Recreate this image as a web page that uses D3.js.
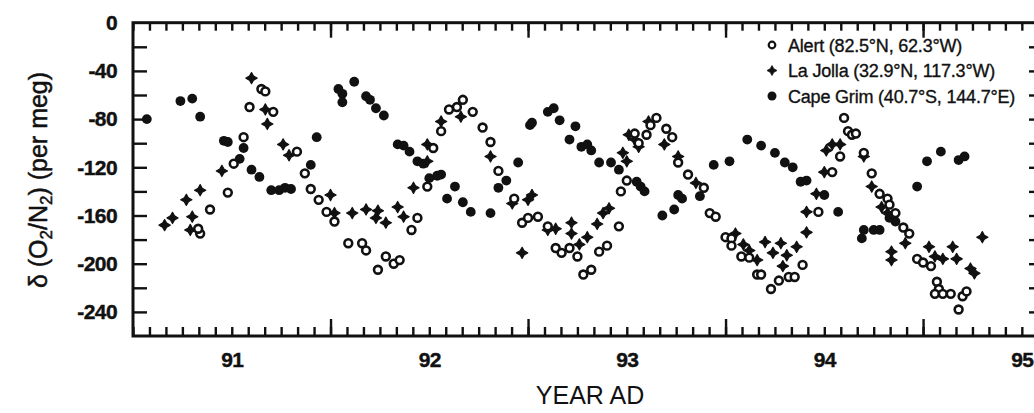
<!DOCTYPE html>
<html>
<head>
<meta charset="utf-8">
<script src="https://cdn.jsdelivr.net/npm/d3@7"></script>
<style>
  body { margin: 0; background: #fff; }
  svg { display: block; }
  text { font-family: "Liberation Sans", Arial, Helvetica, sans-serif; fill: #111; }
</style>
</head>
<body>
<script>
// values: [decimal year (19xx), delta O2/N2 in per meg]
let alert = [
  [90.84, -175], [90.83, -171], [90.89, -155], [90.98, -141], [91.01, -117], [91.06, -95],
  [91.09, -70], [91.15, -55], [91.17, -57], [91.21, -74], [91.33, -107], [91.37, -125],
  [91.40, -138], [91.44, -147], [91.48, -157], [91.52, -165], [91.59, -183], [91.66, -183],
  [91.68, -189], [91.74, -205], [91.78, -194], [91.82, -200], [91.85, -197], [91.91, -172],
  [91.94, -162], [91.99, -136], [92.02, -104], [92.06, -90], [92.10, -72], [92.14, -70],
  [92.17, -64], [92.22, -74], [92.27, -87], [92.31, -99], [92.35, -123], [92.43, -146],
  [92.47, -166], [92.50, -162], [92.55, -161], [92.60, -169], [92.64, -187], [92.67, -191],
  [92.71, -187], [92.75, -194], [92.78, -209], [92.82, -205], [92.86, -190], [92.90, -185],
  [92.96, -169], [92.97, -140], [93.00, -131], [93.04, -92], [93.06, -100], [93.10, -93],
  [93.12, -85], [93.15, -79], [93.20, -88], [93.23, -95], [93.26, -116], [93.31, -126],
  [93.39, -137], [93.42, -158], [93.45, -161], [93.50, -178], [93.53, -179], [93.53, -185],
  [93.58, -194], [93.62, -195], [93.66, -209], [93.68, -209], [93.73, -221], [93.77, -214],
  [93.82, -211], [93.85, -211], [93.89, -201], [93.97, -157], [94.04, -124], [94.08, -111],
  [94.10, -79], [94.12, -90], [94.14, -93], [94.16, -92], [94.20, -108], [94.24, -125],
  [94.28, -142], [94.32, -146], [94.33, -151], [94.36, -158], [94.40, -170], [94.43, -175],
  [94.47, -196], [94.50, -199], [94.54, -202], [94.57, -215], [94.58, -221], [94.56, -225],
  [94.60, -225], [94.64, -225], [94.68, -238], [94.70, -227], [94.72, -223]
];

let laJolla = [
  [90.66, -168], [90.70, -162], [90.77, -147], [90.80, -161], [90.79, -172], [90.84, -139],
  [90.95, -123], [91.10, -46], [91.17, -72], [91.18, -84], [91.26, -101], [91.29, -110],
  [91.50, -143], [91.52, -158], [91.61, -158], [91.68, -155], [91.74, -156], [91.73, -162],
  [91.78, -166], [91.84, -153], [91.87, -161], [91.92, -137], [91.99, -101], [91.99, -115],
  [92.06, -82], [92.16, -78], [92.31, -111], [92.42, -150], [92.47, -191], [92.50, -147],
  [92.52, -143], [92.60, -172], [92.64, -171], [92.72, -166], [92.72, -175], [92.76, -184],
  [92.80, -178], [92.85, -167], [92.88, -158], [92.91, -154], [92.98, -108], [93.00, -115],
  [93.01, -93], [93.04, -97], [93.06, -103], [93.11, -82], [93.19, -101], [93.26, -111],
  [93.35, -133], [93.55, -175], [93.59, -184], [93.62, -189], [93.66, -197], [93.70, -182],
  [93.74, -191], [93.78, -183], [93.79, -202], [93.81, -193], [93.86, -186], [93.91, -157],
  [93.91, -174], [93.96, -142], [94.00, -124], [94.01, -106], [94.04, -101], [94.08, -101],
  [94.20, -111], [94.24, -136], [94.29, -153], [94.32, -158], [94.34, -190], [94.34, -197],
  [94.41, -183], [94.53, -186], [94.56, -194], [94.60, -196], [94.65, -186], [94.67, -196],
  [94.74, -204], [94.76, -208], [94.80, -178]
];

let capeGrim = [
  [90.57, -80], [90.74, -65], [90.80, -63], [90.84, -78], [90.96, -98], [90.98, -99],
  [91.04, -113], [91.06, -104], [91.10, -122], [91.14, -128], [91.20, -139], [91.24, -139],
  [91.27, -137], [91.30, -138], [91.40, -118], [91.43, -95], [91.54, -55], [91.56, -59],
  [91.56, -66], [91.62, -49], [91.68, -61], [91.70, -64], [91.73, -71], [91.77, -77],
  [91.84, -101], [91.87, -102], [91.90, -107], [91.94, -115], [91.97, -117], [92.00, -129],
  [92.04, -127], [92.06, -126], [92.09, -146], [92.13, -136], [92.17, -149], [92.21, -157],
  [92.31, -158], [92.35, -137], [92.39, -131], [92.45, -116], [92.51, -85], [92.52, -83],
  [92.60, -74], [92.63, -71], [92.66, -81], [92.71, -97], [92.74, -86], [92.77, -103],
  [92.80, -101], [92.82, -106], [92.86, -116], [92.92, -116], [92.96, -122], [93.05, -132],
  [93.07, -136], [93.09, -140], [93.18, -160], [93.24, -155], [93.26, -143], [93.28, -146],
  [93.37, -144], [93.44, -118], [93.52, -115], [93.61, -97], [93.68, -102], [93.75, -108],
  [93.80, -116], [93.84, -120], [93.88, -132], [93.91, -131], [94.00, -143], [94.07, -157],
  [94.19, -179], [94.20, -172], [94.25, -172], [94.28, -172], [94.33, -162], [94.36, -165],
  [94.47, -136], [94.52, -115], [94.59, -107], [94.68, -114], [94.71, -111]
];

let yearLabels = [91, 92, 93, 94, 95];
let valueLabels = [0, -40, -80, -120, -160, -200, -240];
let legendNames = [
  "Alert (82.5°N, 62.3°W)",
  "La Jolla (32.9°N, 117.3°W)",
  "Cape Grim (40.7°S,  144.7°E)"
];

let w = 1034;
let h = 413;
let ink = "#111";

let xScale = d3.scaleLinear().domain([90.5, 95.092]).range([133, 1040]);
let yScale = d3.scaleLinear().domain([0, -260]).range([22.7, 336]);

let svg = d3.select("body").append("svg")
  .attr("width", w)
  .attr("height", h);

let months = d3.range(Math.ceil(90.5 * 12), Math.floor(95.09 * 12) + 1).map(m => m / 12);
let halfYears = [91.5, 92.5, 93.5, 94.5];
let every20 = d3.range(-20, -260, -20);

// plain hyphen like the original, not the unicode minus d3.format gives
let hyphenFmt = d => String(d);

function styleAxis(g) {
  g.select(".domain").remove();
  g.selectAll(".tick line").attr("stroke", ink).attr("stroke-width", 2.4);
}

function styleLabels(size) {
  return function(g) {
    g.select(".domain").remove();
    g.selectAll("text")
      .attr("font-size", size)
      .attr("font-weight", "bold")
      .attr("letter-spacing", -0.6)
      .attr("fill", ink)
      .attr("stroke", ink)
      .attr("stroke-width", 0.4);
  };
}

// bottom ticks (inward)
svg.append("g").attr("transform", "translate(0," + yScale(-260) + ")")
  .call(d3.axisBottom(xScale).tickValues(months).tickSize(-9).tickFormat(""))
  .call(styleAxis);
svg.append("g").attr("transform", "translate(0," + yScale(-260) + ")")
  .call(d3.axisBottom(xScale).tickValues(halfYears).tickSize(-17).tickFormat(""))
  .call(styleAxis);
// year labels
svg.append("g").attr("transform", "translate(0," + yScale(-260) + ")")
  .call(d3.axisBottom(xScale).tickValues(yearLabels).tickSize(0).tickPadding(16).tickFormat(hyphenFmt))
  .call(styleLabels(21));

// top ticks
svg.append("g").attr("transform", "translate(0," + yScale(0) + ")")
  .call(d3.axisTop(xScale).tickValues(months).tickSize(-8).tickFormat(""))
  .call(styleAxis);
svg.append("g").attr("transform", "translate(0," + yScale(0) + ")")
  .call(d3.axisTop(xScale).tickValues(halfYears).tickSize(-15).tickFormat(""))
  .call(styleAxis);

// left ticks and labels
svg.append("g").attr("transform", "translate(" + xScale(90.5) + ",0)")
  .call(d3.axisLeft(yScale).tickValues(every20).tickSize(-14).tickFormat(""))
  .call(styleAxis);
svg.append("g").attr("transform", "translate(" + xScale(90.5) + ",0)")
  .call(d3.axisLeft(yScale).tickValues(valueLabels).tickSize(0).tickPadding(16).tickFormat(hyphenFmt))
  .call(styleLabels(21));

// right ticks
svg.append("g").attr("transform", "translate(" + xScale(95.092) + ",0)")
  .call(d3.axisRight(yScale).tickValues(every20).tickSize(-11).tickFormat(""))
  .call(styleAxis);

// frame
svg.append("rect")
  .attr("x", xScale(90.5))
  .attr("y", yScale(0))
  .attr("width", xScale(95.092) - xScale(90.5))
  .attr("height", yScale(-260) - yScale(0))
  .attr("fill", "none")
  .attr("stroke", ink)
  .attr("stroke-width", 3);

// four-point star for La Jolla
function star(r) {
  let k = r * 0.36;
  return "M0," + (-r) + "L" + k + "," + (-k) + "L" + r + ",0L" + k + "," + k +
    "L0," + r + "L" + (-k) + "," + k + "L" + (-r) + ",0L" + (-k) + "," + (-k) + "Z";
}

let plot = svg.append("g");

plot.selectAll(".grim").data(capeGrim).enter().append("circle")
  .attr("class", "grim")
  .attr("cx", d => xScale(d[0]))
  .attr("cy", d => yScale(d[1]))
  .attr("r", 4.9)
  .attr("fill", ink);

plot.selectAll(".jolla").data(laJolla).enter().append("path")
  .attr("class", "jolla")
  .attr("transform", d => "translate(" + xScale(d[0]) + "," + yScale(d[1]) + ")")
  .attr("d", star(5.6))
  .attr("fill", ink)
  .attr("stroke", ink)
  .attr("stroke-width", 1.2)
  .attr("stroke-linejoin", "round");

plot.selectAll(".alert").data(alert).enter().append("circle")
  .attr("class", "alert")
  .attr("cx", d => xScale(d[0]))
  .attr("cy", d => yScale(d[1]))
  .attr("r", 3.9)
  .attr("fill", "#fff")
  .attr("stroke", ink)
  .attr("stroke-width", 2.6);

// legend
let legend = svg.append("g").attr("transform", "translate(772,45)");
legendNames.forEach(function(name, i) {
  let row = legend.append("g").attr("transform", "translate(0," + (i * 25.5) + ")");
  if (i === 0) {
    row.append("circle").attr("r", 3.3).attr("fill", "#fff").attr("stroke", ink).attr("stroke-width", 2.2);
  } else if (i === 1) {
    row.append("path").attr("d", star(5)).attr("fill", ink).attr("stroke", ink).attr("stroke-width", 0.8);
  } else {
    row.append("circle").attr("r", 4.5).attr("fill", ink);
  }
  row.append("text")
    .attr("x", 16)
    .attr("y", 6.5)
    .attr("font-size", 18)
    .attr("letter-spacing", -0.2)
    .attr("stroke", ink)
    .attr("stroke-width", 0.35)
    .text(name);
});

// axis titles
svg.append("text")
  .attr("x", 590)
  .attr("y", 404)
  .attr("text-anchor", "middle")
  .attr("font-size", 25)
  .text("YEAR AD");

let ytitle = svg.append("text")
  .attr("transform", "translate(47,180) rotate(-90)")
  .attr("text-anchor", "middle")
  .attr("font-size", 25)
  .attr("stroke", ink)
  .attr("stroke-width", 0.5);
ytitle.append("tspan").text("δ (O");
ytitle.append("tspan").attr("font-size", 17).attr("dy", 5).text("2");
ytitle.append("tspan").attr("dy", -5).text("/N");
ytitle.append("tspan").attr("font-size", 17).attr("dy", 5).text("2");
ytitle.append("tspan").attr("dy", -5).text(") (per meg)");
</script>
</body>
</html>
